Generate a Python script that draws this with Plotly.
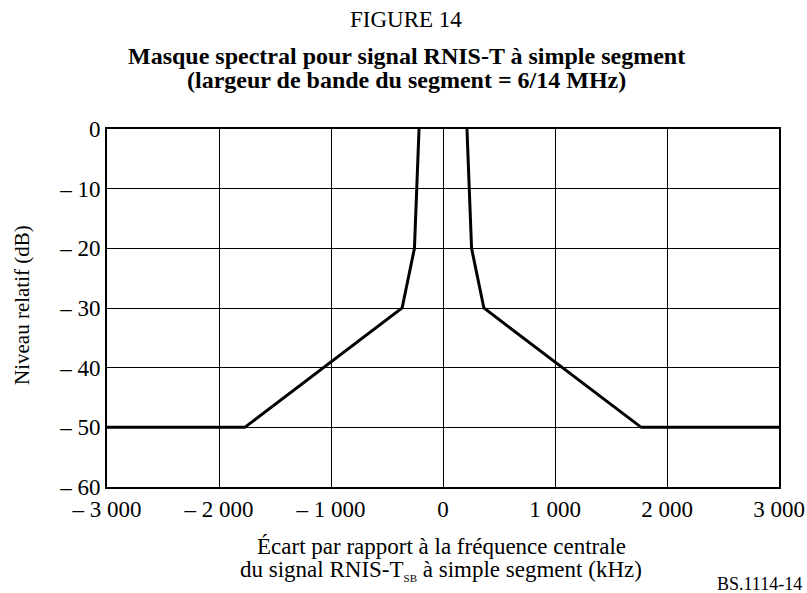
import plotly.graph_objects as go

# spectral mask breakpoints (kHz, dB); the flat top at 0 dB is the frame itself
freq_khz = [-3000, -1770, -365, -255, -214, None, 214, 255, 365, 1770, 3000]
level_db = [-50, -50, -30, -20, 0, None, 0, -20, -30, -50, -50]

x_ticks = [-3000, -2000, -1000, 0, 1000, 2000, 3000]
x_labels = ["\u2013 3 000", "\u2013 2 000", "\u2013 1 000", "0", "1 000", "2 000", "3 000"]
y_ticks = [0, -10, -20, -30, -40, -50, -60]
y_labels = ["0", "\u2013 10", "\u2013 20", "\u2013 30", "\u2013 40", "\u2013 50", "\u2013 60"]

font = "Liberation Serif, Times New Roman, serif"
W, H = 807, 593
L, R, T, B = 107, 28, 129, 106

fig = go.Figure()
fig.add_trace(go.Scatter(x=freq_khz, y=level_db, mode="lines", connectgaps=False,
                         line=dict(color="black", width=3), showlegend=False))

fig.update_xaxes(range=[-3000, 3000], tickvals=x_ticks, ticktext=x_labels,
                 showgrid=True, gridcolor="black", gridwidth=1.3,
                 showline=True, linecolor="black", linewidth=2, mirror=True,
                 zeroline=False, ticks="", automargin=False,
                 tickfont=dict(size=23, color="black"))
fig.update_yaxes(range=[-60, 0], tickvals=y_ticks, ticktext=y_labels,
                 showgrid=True, gridcolor="black", gridwidth=1.3,
                 showline=True, linecolor="black", linewidth=2, mirror=True,
                 zeroline=False, ticks="", automargin=False,
                 tickfont=dict(size=23, color="black"))

fig.update_layout(
    width=W, height=H,
    margin=dict(l=L, r=R, t=T, b=B),
    plot_bgcolor="white", paper_bgcolor="white",
    font=dict(family=font, color="black"),
)

def px_x(p):
    return (p - L) / (W - L - R)

def px_y(p):
    return (H - B - p) / (H - T - B)

texts = [
    ("FIGURE 14", 406, 20, 23, 0),
    ("<b>Masque spectral pour signal RNIS-T à simple segment</b>", 406, 56, 24, 0),
    ("<b>(largeur de bande du segment = 6/14 MHz)</b>", 406, 80, 24, 0),
    ("Écart par rapport à la fréquence centrale", 441, 546, 23, 0),
    ("du signal RNIS-T<sub><span style='font-size:11px'>SB</span></sub> à simple segment (kHz)",
     441, 570, 23, 0),
    ("BS.1114-14", 759, 584, 18, 0),
    ("Niveau relatif (dB)", 22, 305, 21, -90),
]
for txt, x, y, size, ang in texts:
    fig.add_annotation(text=txt, x=px_x(x), y=px_y(y), xref="paper", yref="paper",
                       xanchor="center", yanchor="middle", showarrow=False,
                       textangle=ang, font=dict(size=size, color="black"))

fig.write_html("out.html", config={"displayModeBar": False},
               post_script="document.body.style.margin='0';")
